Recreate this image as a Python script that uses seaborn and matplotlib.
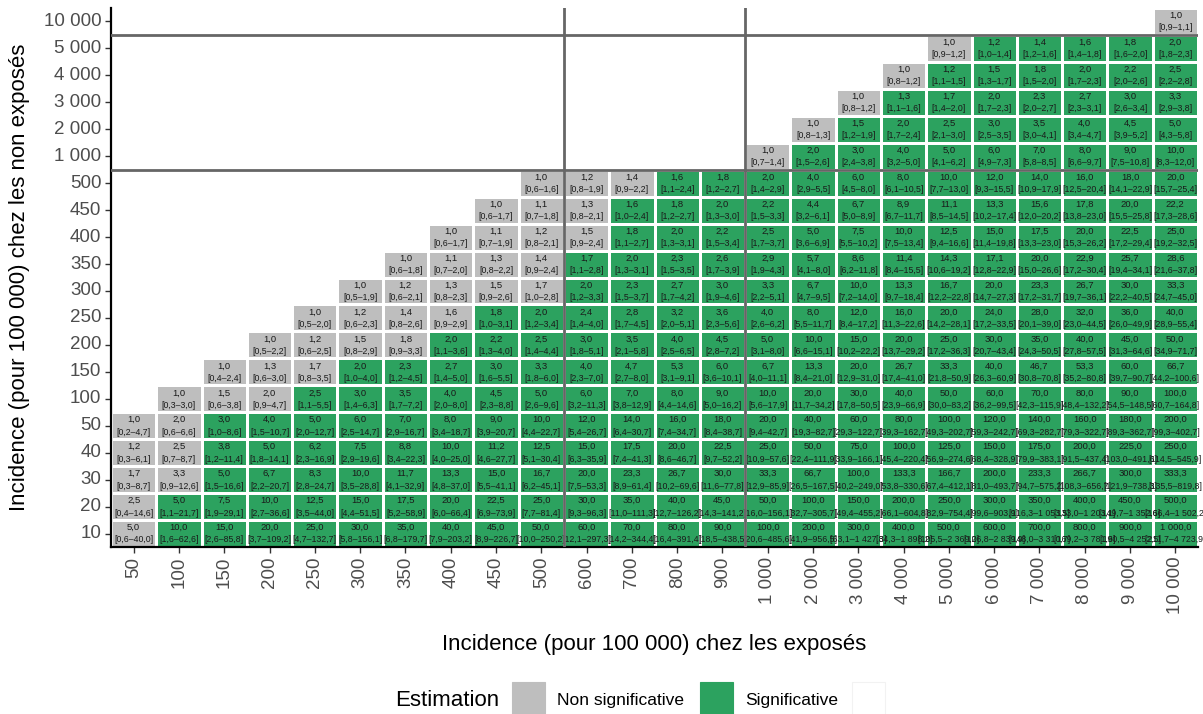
import numpy as np
import pandas as pd
import matplotlib
matplotlib.use("Agg")
import matplotlib.pyplot as plt
from matplotlib.colors import ListedColormap
from matplotlib.patches import Rectangle
import seaborn as sns

# Incidence (per 100 000) in exposed (columns) and unexposed (rows)
exposed = [50, 100, 150, 200, 250, 300, 350, 400, 450, 500, 600, 700, 800, 900,
           1000, 2000, 3000, 4000, 5000, 6000, 7000, 8000, 9000, 10000]
unexposed = [10, 20, 30, 40, 50, 100, 150, 200, 250, 300, 350, 400, 450, 500,
             1000, 2000, 3000, 4000, 5000, 10000]

# 95% confidence intervals of the relative risk, one list per unexposed level,
# starting at the first exposed level >= unexposed level
ci_10 = [(0.6, 40.0), (1.6, 62.6), (2.6, 85.8), (3.7, 109.2), (4.7, 132.7), (5.8, 156.1),
         (6.8, 179.7), (7.9, 203.2), (8.9, 226.7), (10.0, 250.2), (12.1, 297.3), (14.2, 344.4),
         (16.4, 391.4), (18.5, 438.5), (20.6, 485.6), (41.9, 956.5), (63.1, 1427.3),
         (84.3, 1898.2), (105.5, 2369.0), (126.8, 2839.9), (148.0, 3310.7), (169.2, 3781.6),
         (190.5, 4252.5), (211.7, 4723.9)]
ci_20 = [(0.4, 14.6), (1.1, 21.7), (1.9, 29.1), (2.7, 36.6), (3.5, 44.0), (4.4, 51.5),
         (5.2, 58.9), (6.0, 66.4), (6.9, 73.9), (7.7, 81.4), (9.3, 96.3), (11.0, 111.3),
         (12.7, 126.2), (14.3, 141.2), (16.0, 156.1), (32.7, 305.7), (49.4, 455.2),
         (66.1, 604.8), (82.9, 754.4), (99.6, 903.9), (116.3, 1053.5), (133.0, 1203.1),
         (149.7, 1352.6), (166.4, 1502.2)]
ci_30 = [(0.3, 8.7), (0.9, 12.6), (1.5, 16.6), (2.2, 20.7), (2.8, 24.7), (3.5, 28.8),
         (4.1, 32.9), (4.8, 37.0), (5.5, 41.1), (6.2, 45.1), (7.5, 53.3), (8.9, 61.4),
         (10.2, 69.6), (11.6, 77.8), (12.9, 85.9), (26.5, 167.5), (40.2, 249.0),
         (53.8, 330.6), (67.4, 412.1), (81.0, 493.7), (94.7, 575.2), (108.3, 656.7),
         (121.9, 738.3), (135.5, 819.8)]
ci_40 = [(0.3, 6.1), (0.7, 8.7), (1.2, 11.4), (1.8, 14.1), (2.3, 16.9), (2.9, 19.6),
         (3.4, 22.3), (4.0, 25.0), (4.6, 27.7), (5.1, 30.4), (6.3, 35.9), (7.4, 41.3),
         (8.6, 46.7), (9.7, 52.2), (10.9, 57.6), (22.4, 111.9), (33.9, 166.1),
         (45.4, 220.4), (56.9, 274.6), (68.4, 328.9), (79.9, 383.1), (91.5, 437.4),
         (103.0, 491.6), (114.5, 545.9)]
ci_50 = [(0.2, 4.7), (0.6, 6.6), (1.0, 8.6), (1.5, 10.7), (2.0, 12.7), (2.5, 14.7),
         (2.9, 16.7), (3.4, 18.7), (3.9, 20.7), (4.4, 22.7), (5.4, 26.7), (6.4, 30.7),
         (7.4, 34.7), (8.4, 38.7), (9.4, 42.7), (19.3, 82.7), (29.3, 122.7), (39.3, 162.7),
         (49.3, 202.7), (59.3, 242.7), (69.3, 282.7), (79.3, 322.7), (89.3, 362.7),
         (99.3, 402.7)]
ci_100 = [(0.3, 3.0), (0.6, 3.8), (0.9, 4.7), (1.1, 5.5), (1.4, 6.3), (1.7, 7.2),
          (2.0, 8.0), (2.3, 8.8), (2.6, 9.6), (3.2, 11.3), (3.8, 12.9), (4.4, 14.6),
          (5.0, 16.2), (5.6, 17.9), (11.7, 34.2), (17.8, 50.5), (23.9, 66.9), (30.0, 83.2),
          (36.2, 99.5), (42.3, 115.9), (48.4, 132.2), (54.5, 148.5), (60.7, 164.8)]
ci_150 = [(0.4, 2.4), (0.6, 3.0), (0.8, 3.5), (1.0, 4.0), (1.2, 4.5), (1.4, 5.0),
          (1.6, 5.5), (1.8, 6.0), (2.3, 7.0), (2.7, 8.0), (3.1, 9.1), (3.6, 10.1),
          (4.0, 11.1), (8.4, 21.0), (12.9, 31.0), (17.4, 41.0), (21.8, 50.9), (26.3, 60.9),
          (30.8, 70.8), (35.2, 80.8), (39.7, 90.7), (44.2, 100.6)]
ci_200 = [(0.5, 2.2), (0.6, 2.5), (0.8, 2.9), (0.9, 3.3), (1.1, 3.6), (1.3, 4.0),
          (1.4, 4.4), (1.8, 5.1), (2.1, 5.8), (2.5, 6.5), (2.8, 7.2), (3.1, 8.0),
          (6.6, 15.1), (10.2, 22.2), (13.7, 29.2), (17.2, 36.3), (20.7, 43.4), (24.3, 50.5),
          (27.8, 57.5), (31.3, 64.6), (34.9, 71.7)]
ci_250 = [(0.5, 2.0), (0.6, 2.3), (0.8, 2.6), (0.9, 2.9), (1.0, 3.1), (1.2, 3.4),
          (1.4, 4.0), (1.7, 4.5), (2.0, 5.1), (2.3, 5.6), (2.6, 6.2), (5.5, 11.7),
          (8.4, 17.2), (11.3, 22.6), (14.2, 28.1), (17.2, 33.5), (20.1, 39.0), (23.0, 44.5),
          (26.0, 49.9), (28.9, 55.4)]
ci_300 = [(0.5, 1.9), (0.6, 2.1), (0.8, 2.3), (0.9, 2.6), (1.0, 2.8), (1.2, 3.3),
          (1.5, 3.7), (1.7, 4.2), (1.9, 4.6), (2.2, 5.1), (4.7, 9.5), (7.2, 14.0),
          (9.7, 18.4), (12.2, 22.8), (14.7, 27.3), (17.2, 31.7), (19.7, 36.1), (22.2, 40.5),
          (24.7, 45.0)]
ci_350 = [(0.6, 1.8), (0.7, 2.0), (0.8, 2.2), (0.9, 2.4), (1.1, 2.8), (1.3, 3.1),
          (1.5, 3.5), (1.7, 3.9), (1.9, 4.3), (4.1, 8.0), (6.2, 11.8), (8.4, 15.5),
          (10.6, 19.2), (12.8, 22.9), (15.0, 26.6), (17.2, 30.4), (19.4, 34.1), (21.6, 37.8)]
ci_400 = [(0.6, 1.7), (0.7, 1.9), (0.8, 2.1), (0.9, 2.4), (1.1, 2.7), (1.3, 3.1),
          (1.5, 3.4), (1.7, 3.7), (3.6, 6.9), (5.5, 10.2), (7.5, 13.4), (9.4, 16.6),
          (11.4, 19.8), (13.3, 23.0), (15.3, 26.2), (17.2, 29.4), (19.2, 32.5)]
ci_450 = [(0.6, 1.7), (0.7, 1.8), (0.8, 2.1), (1.0, 2.4), (1.2, 2.7), (1.3, 3.0),
          (1.5, 3.3), (3.2, 6.1), (5.0, 8.9), (6.7, 11.7), (8.5, 14.5), (10.2, 17.4),
          (12.0, 20.2), (13.8, 23.0), (15.5, 25.8), (17.3, 28.6)]
ci_500 = [(0.6, 1.6), (0.8, 1.9), (0.9, 2.2), (1.1, 2.4), (1.2, 2.7), (1.4, 2.9),
          (2.9, 5.5), (4.5, 8.0), (6.1, 10.5), (7.7, 13.0), (9.3, 15.5), (10.9, 17.9),
          (12.5, 20.4), (14.1, 22.9), (15.7, 25.4)]
ci_1000 = [(0.7, 1.4), (1.5, 2.6), (2.4, 3.8), (3.2, 5.0), (4.1, 6.2), (4.9, 7.3),
           (5.8, 8.5), (6.6, 9.7), (7.5, 10.8), (8.3, 12.0)]
ci_2000 = [(0.8, 1.3), (1.2, 1.9), (1.7, 2.4), (2.1, 3.0), (2.5, 3.5), (3.0, 4.1),
           (3.4, 4.7), (3.9, 5.2), (4.3, 5.8)]
ci_3000 = [(0.8, 1.2), (1.1, 1.6), (1.4, 2.0), (1.7, 2.3), (2.0, 2.7), (2.3, 3.1),
           (2.6, 3.4), (2.9, 3.8)]
ci_4000 = [(0.8, 1.2), (1.1, 1.5), (1.3, 1.7), (1.5, 2.0), (1.7, 2.3), (2.0, 2.6),
           (2.2, 2.8)]
ci_5000 = [(0.9, 1.2), (1.0, 1.4), (1.2, 1.6), (1.4, 1.8), (1.6, 2.0), (1.8, 2.3)]
ci_10000 = [(0.9, 1.1)]

ci_rows = [ci_10, ci_20, ci_30, ci_40, ci_50, ci_100, ci_150, ci_200, ci_250, ci_300,
           ci_350, ci_400, ci_450, ci_500, ci_1000, ci_2000, ci_3000, ci_4000, ci_5000,
           ci_10000]

# number of non-significant estimates at the start of each row (closest to RR = 1)
n_nonsig = [1, 1, 2, 2, 2, 3, 3, 4, 4, 5, 4, 4, 3, 3, 1, 1, 1, 1, 1, 1]

GREY = "#BEBEBE"
GREEN = "#2CA25F"
TXT = "#1A1A1A"


def fr_num(v):
    """French formatting: space as thousands separator, comma as decimal mark."""
    return f"{v:,.1f}".replace(",", " ").replace(".", ",")


def fr_int(v):
    return f"{v:,}".replace(",", " ")


# Build the significance matrix, rows ordered top (10 000) to bottom (10)
n_r, n_c = len(unexposed), len(exposed)
sig = np.full((n_r, n_c), np.nan)
labels = {}
for r, (u, cis, ng) in enumerate(zip(unexposed, ci_rows, n_nonsig)):
    cols = [c for c, e in enumerate(exposed) if e >= u]
    for k, (c, (lo, hi)) in enumerate(zip(cols, cis)):
        row = n_r - 1 - r
        sig[row, c] = 0 if k < ng else 1
        rr = exposed[c] / u
        labels[(row, c)] = (fr_num(rr), f"[{fr_num(lo)}–{fr_num(hi)}]")

df = pd.DataFrame(sig, index=[fr_int(u) for u in unexposed[::-1]],
                  columns=[fr_int(e) for e in exposed])

plt.rcParams["font.family"] = ["Liberation Sans", "DejaVu Sans"]

W, H = 1203, 714
fig = plt.figure(figsize=(W / 100, H / 100), dpi=100)
left, right, top, bottom = 111, 1198, 8, 547
ax = fig.add_axes([left / W, 1 - bottom / H, (right - left) / W, (bottom - top) / H])

sns.heatmap(df, cmap=ListedColormap([GREY, GREEN]), vmin=0, vmax=1, cbar=False,
            linewidths=0.9, linecolor="white", ax=ax)

# light panel grid at cell boundaries
for k in range(n_c + 1):
    ax.axvline(k, color="#EBEBEB", lw=0.6, zorder=0)
for k in range(n_r + 1):
    ax.axhline(k, color="#EBEBEB", lw=0.6, zorder=0)

for (row, c), (t1, t2) in labels.items():
    ax.text(c + 0.5, row + 0.5 - 0.22, t1, ha="center", va="center", fontsize=6.8, color=TXT)
    ax.text(c + 0.5, row + 0.5 + 0.24, t2, ha="center", va="center", fontsize=6.3, color=TXT)

# separators between scale blocks
for xv in (10, 14):
    ax.axvline(xv, color="#666666", lw=2.0, zorder=4)
for yv in (1, 6):
    ax.axhline(yv, color="#666666", lw=2.0, zorder=4)

ax.set_xlim(0, n_c)
ax.set_ylim(n_r, 0)
for s in ("left", "bottom"):
    ax.spines[s].set_visible(True)
    ax.spines[s].set_color("black")
    ax.spines[s].set_linewidth(1.6)
for s in ("top", "right"):
    ax.spines[s].set_visible(False)

ax.tick_params(axis="both", length=4, width=1.0, color="#333333", labelsize=13.5,
               labelcolor="#4D4D4D", pad=3)
ax.set_xticklabels(df.columns, rotation=90)
ax.set_yticklabels(df.index, rotation=0)
ax.set_xlabel("Incidence (pour 100 000) chez les exposés", fontsize=16, labelpad=14)
ax.set_ylabel("Incidence (pour 100 000) chez les non exposés", fontsize=16, labelpad=10)

# legend along the bottom edge
def fx(px):
    return px / W


def fy(py):
    return 1 - py / H


fig.text(fx(395), fy(700), "Estimation", fontsize=16, va="center", ha="left")
keys = [(512, GREY, "Non significative"), (700, GREEN, "Significative"), (852, "white", None)]
for x0, col, lab in keys:
    fig.patches.append(Rectangle((fx(x0), fy(716)), 33 / W, 34 / H, transform=fig.transFigure,
                                 facecolor=col, edgecolor="#F2F2F2" if col == "white" else col,
                                 lw=0.8))
    if lab:
        fig.text(fx(x0 + 45), fy(700), lab, fontsize=12.5, va="center", ha="left")

fig.savefig("out.png", dpi=100)
